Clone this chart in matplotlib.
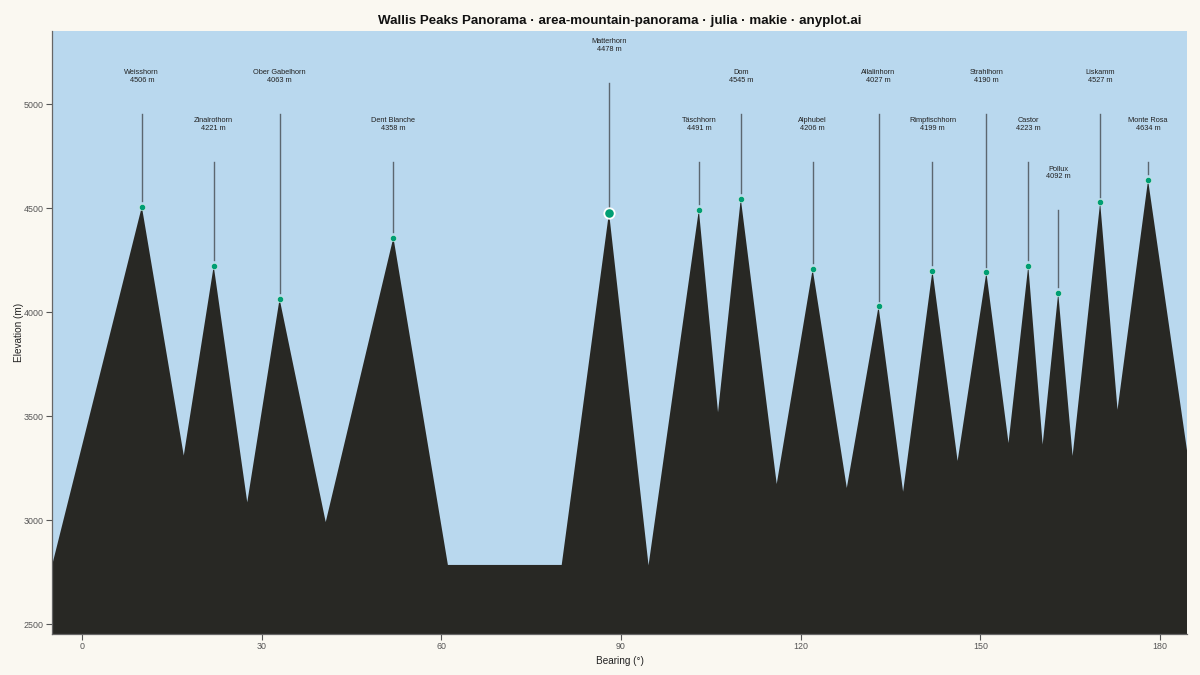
import matplotlib
matplotlib.use("Agg")
import matplotlib.pyplot as plt

# ----------------- data -----------------
# ridge vertices read off the skyline (bearing in degrees, elevation in m)
ridge_bearing = [-5, 10, 17, 22, 27.6, 33, 40.7, 52, 61.1, 80.1, 88, 94.6,
                 103, 106.2, 110, 116.0, 122, 127.7, 133, 137.1, 142, 146.2,
                 151, 154.7, 158, 160.4, 163, 165.4, 170, 172.9, 178, 184.5]
ridge_elev = [2780, 4506, 3310, 4221, 3085, 4063, 2990, 4358, 2784, 2784, 4478, 2782,
              4491, 3518, 4545, 3173, 4206, 3154, 4027, 3136, 4199, 3284,
              4190, 3370, 4223, 3363, 4092, 3308, 4527, 3530, 4634, 3335]

peak_names = ["Weisshorn", "Zinalrothorn", "Ober Gabelhorn", "Dent Blanche",
              "Matterhorn", "Täschhorn", "Dom", "Alphubel", "Allalinhorn",
              "Rimpfischhorn", "Strahlhorn", "Castor", "Pollux", "Liskamm",
              "Monte Rosa"]
peak_bearing = [10, 22, 33, 52, 88, 103, 110, 122, 133, 142, 151, 158, 163, 170, 178]
peak_elev = [4506, 4221, 4063, 4358, 4478, 4491, 4545, 4206, 4027, 4199,
             4190, 4223, 4092, 4527, 4634]
highlight = "Matterhorn"

# ----------------- layout -----------------
# label row for each peak (0 = top row ... 3 = lowest), Matterhorn gets its own
label_row = {"Matterhorn": 0}
for n in ["Weisshorn", "Ober Gabelhorn", "Dom", "Allalinhorn", "Strahlhorn", "Liskamm"]:
    label_row[n] = 1
for n in ["Zinalrothorn", "Dent Blanche", "Täschhorn", "Alphubel", "Rimpfischhorn",
          "Castor", "Monte Rosa"]:
    label_row[n] = 2
label_row["Pollux"] = 3
line_top = {0: 5101, 1: 4952, 2: 4721, 3: 4490}
text_gap = 180
marker_gap = 28

BG = "#FAF8F1"
SKY = "#B9D8EE"
ROCK = "#282824"
GREEN = "#009E73"
LEADER = "#5C6770"
INK = "#222222"
TICK = "#555555"

plt.rcParams["font.family"] = ["Liberation Sans", "DejaVu Sans"]

fig = plt.figure(figsize=(12, 6.75), dpi=100, facecolor=BG)
ax = fig.add_axes([52 / 1200, 41 / 675, 1135 / 1200, 603 / 675])
ax.set_facecolor(SKY)

ax.set_xlim(-5, 184.5)
ax.set_ylim(2452, 5351)

ax.fill_between(ridge_bearing, 0, ridge_elev, color=ROCK, lw=0, zorder=2)

for name, b, e in zip(peak_names, peak_bearing, peak_elev):
    row = label_row[name]
    top = line_top[row]
    ax.plot([b, b], [e + marker_gap, top], color=LEADER, lw=1.0, zorder=3)
    ax.text(b, top + text_gap, f"{name}\n{e} m", ha="center", va="center",
            fontsize=5.3, color=INK, linespacing=1.05, zorder=4)
    if name == highlight:
        ax.plot(b, e, "o", ms=7.5, color=GREEN, mec="white", mew=1.3, zorder=5)
    else:
        ax.plot(b, e, "o", ms=4.5, color=GREEN, mec="#dff0ea", mew=0.4, zorder=5)

ax.set_xticks([0, 30, 60, 90, 120, 150, 180])
ax.set_yticks([2500, 3000, 3500, 4000, 4500, 5000])
ax.tick_params(axis="both", direction="out", length=4, width=0.8, color=TICK,
               labelcolor=TICK, labelsize=6.4, pad=2)
for side in ["top", "right"]:
    ax.spines[side].set_visible(False)
for side in ["left", "bottom"]:
    ax.spines[side].set_color("#666666")
    ax.spines[side].set_linewidth(0.9)

ax.set_xlabel("Bearing (°)", fontsize=7.2, color=INK, labelpad=3)
ax.set_ylabel("Elevation (m)", fontsize=7.2, color=INK, labelpad=0)
ax.set_title("Wallis Peaks Panorama · area-mountain-panorama · julia · makie · anyplot.ai",
             fontsize=9.6, fontweight="bold", color="#111111", pad=5)

fig.savefig("out.png", dpi=100, facecolor=BG)
